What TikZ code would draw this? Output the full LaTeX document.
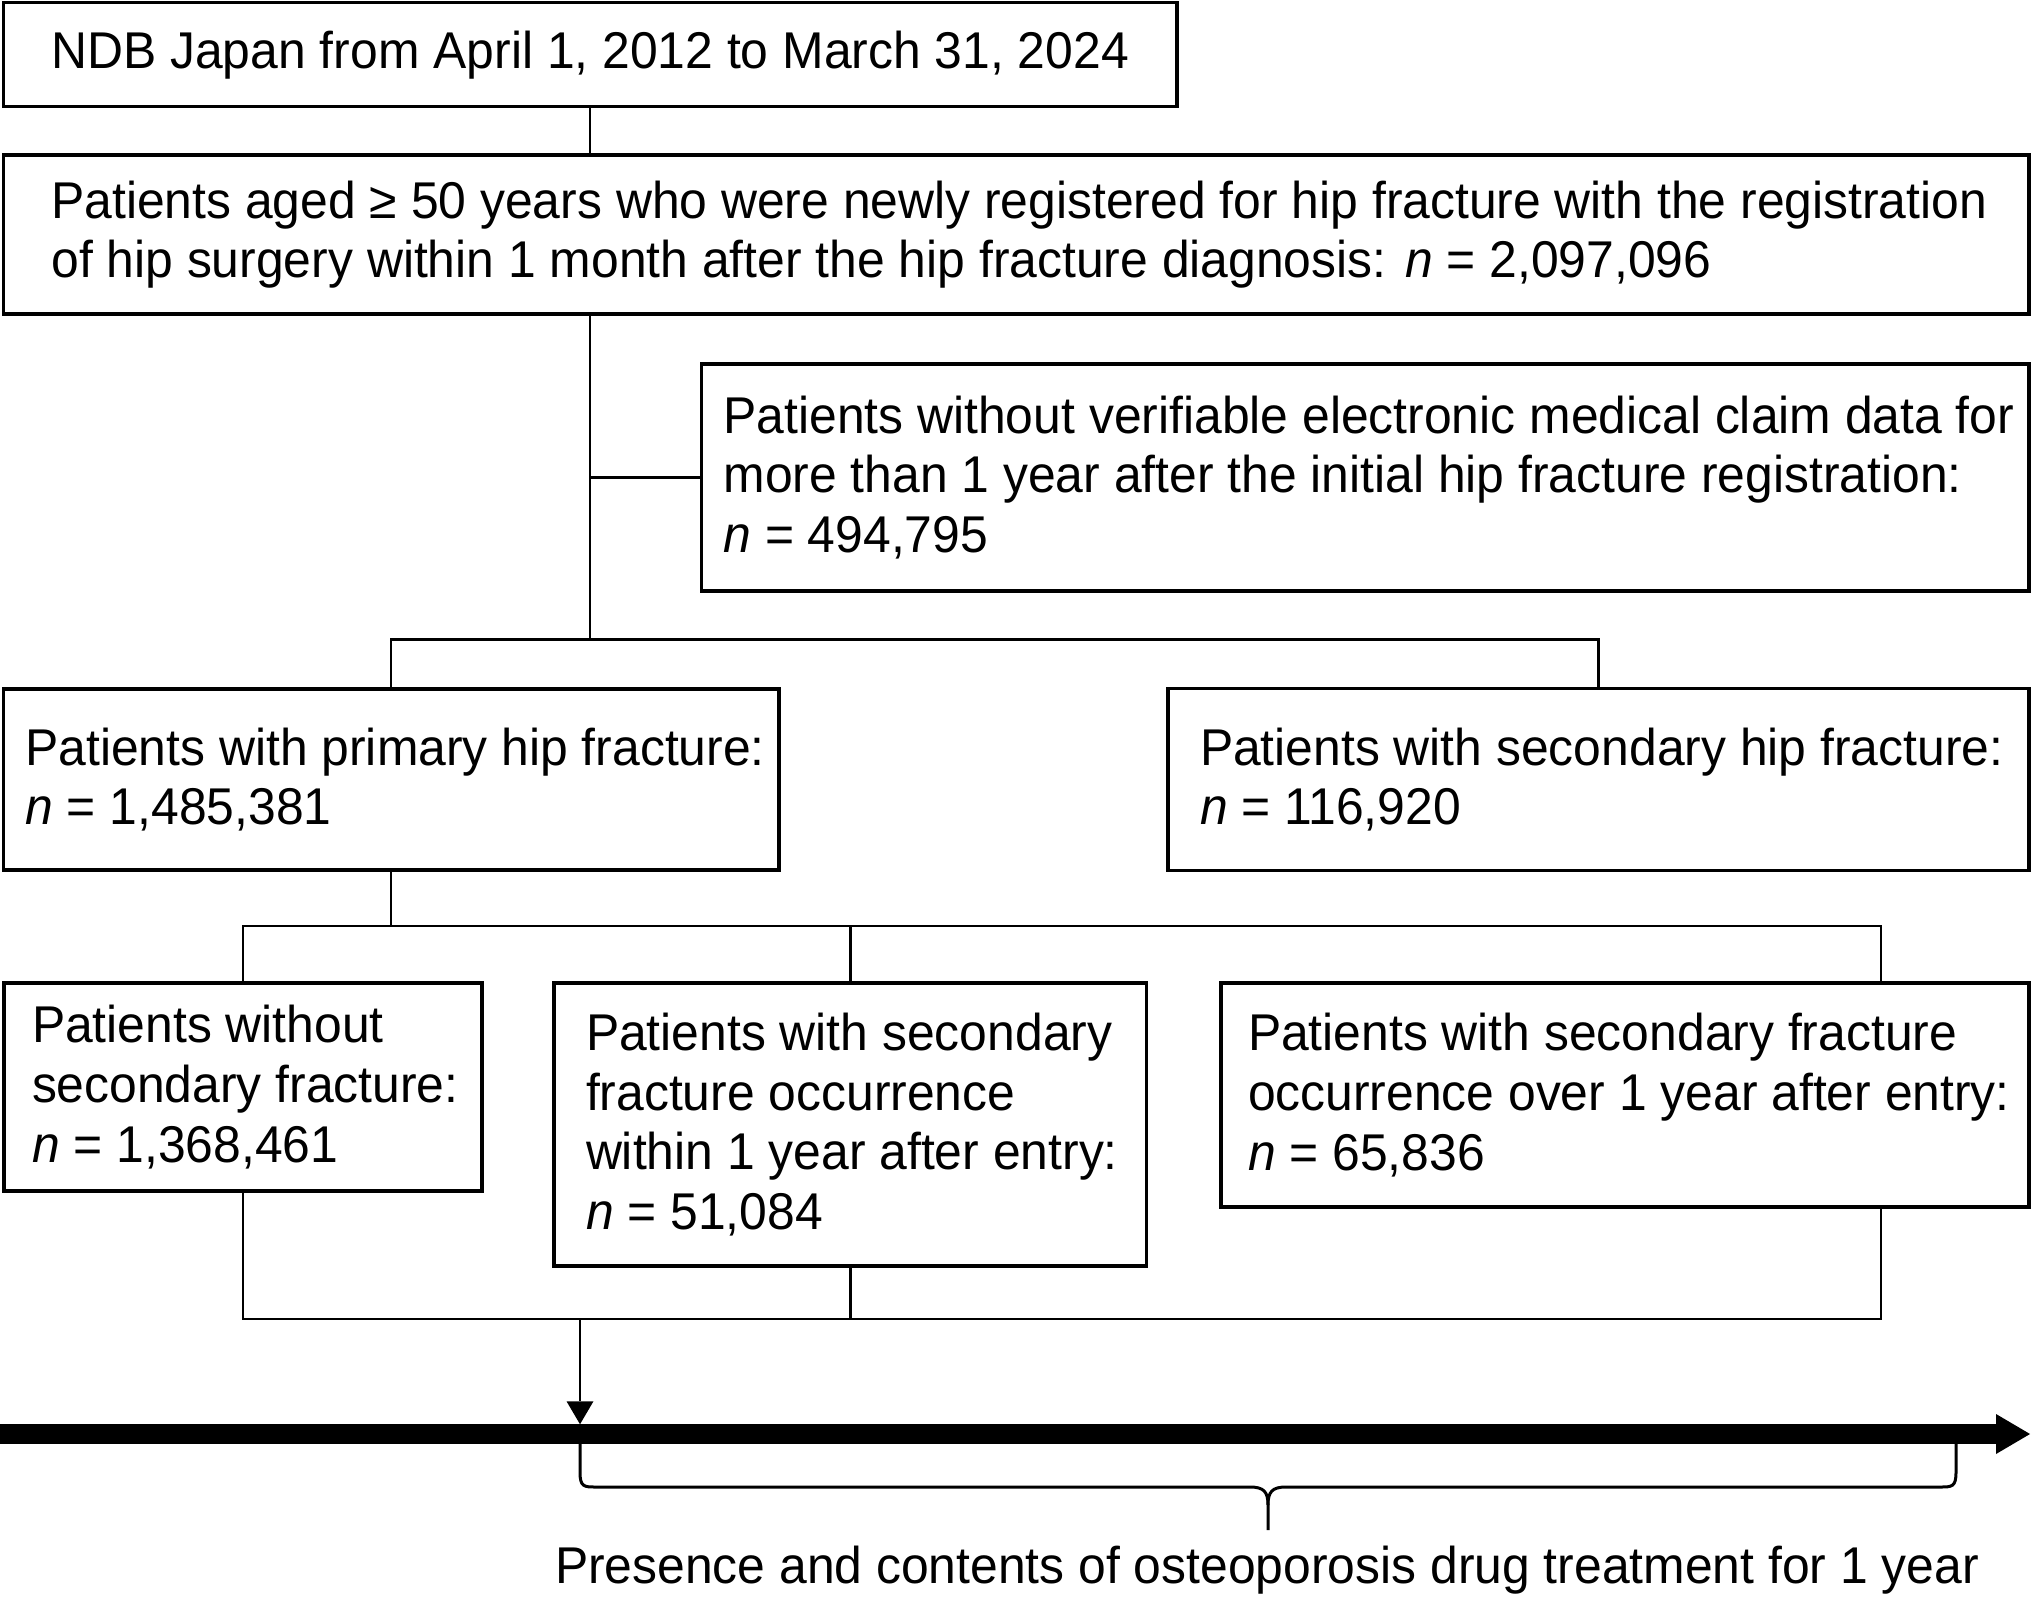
\documentclass[tikz,border=0pt]{standalone}
\usepackage{fontspec}
\setmainfont{Liberation Sans}[FakeStretch=0.964]
\usetikzlibrary{arrows.meta}

\begin{document}
\begin{tikzpicture}[x=1pt,y=-1pt,line join=miter]
	\def\boxline{3.3pt}
	\def\linkline{2.6pt}
	\tikzstyle{flow-box}=[rectangle,draw=black,line width=\boxline,anchor=north west,outer sep=0pt,inner ysep=0pt,font=\fontsize{51.7}{59.6}\selectfont]
	\tikzstyle{flow-text}=[flow-box,align=flush left,execute at begin node={\leftskip=6pt\rightskip=-6pt plus 1fil}]
	\tikzstyle{link}=[draw=black,line width=\linkline]
	\tikzstyle{annot}=[font=\fontsize{51.7}{59.6}\selectfont,anchor=base]
	\useasboundingbox (0,0) rectangle (2033,1597);

	% source and cohort
	\node[flow-box,align=center,minimum width=1173.7pt,minimum height=104pt] (ndb) at (3.3,2.7) {NDB Japan from April 1, 2012 to March 31, 2024};
	\node[flow-text,text width=1941.7pt,inner xsep=42pt,minimum height=159pt] (cohort) at (3.3,155) {Patients aged ≥ 50 years who were newly registered for hip fracture with the registration\\of hip surgery within 1 month after the hip fracture diagnosis: \textit{n} = 2,097,096};
	\node[flow-text,text width=1295.5pt,inner xsep=16pt,minimum height=227pt] (excl) at (701.5,364) {Patients without verifiable electronic medical claim data for\\more than 1 year after the initial hip fracture registration:\\\textit{n} = 494,795};

	% primary / secondary
	\node[flow-text,text width=743.7pt,inner xsep=16pt,minimum height=181pt] (prim) at (3.3,689) {Patients with primary hip fracture:\\\textit{n} = 1,485,381};
	\node[flow-text,text width=809pt,inner xsep=26pt,minimum height=182pt] (sec) at (1168,688.5) {Patients with secondary hip fracture:\\\textit{n} = 116,920};

	% secondary fracture groups
	\node[flow-text,text width=434pt,inner xsep=22pt,minimum height=208pt] (nosec) at (4,983) {Patients without\\secondary fracture:\\\textit{n} = 1,368,461};
	\node[flow-text,text width=540.5pt,inner xsep=26pt,minimum height=283pt] (within) at (554,983) {Patients with secondary\\fracture occurrence\\within 1 year after entry:\\\textit{n} = 51,084};
	\node[flow-text,text width=766pt,inner xsep=21pt,minimum height=224pt] (over) at (1221,983) {Patients with secondary fracture\\occurrence over 1 year after entry:\\\textit{n} = 65,836};

	% junctions
	\coordinate (split) at (590.15,639.5);
	\coordinate (fork) at (391.15,926);
	\coordinate (fork-r) at (1881,926);
	\coordinate (merge-r) at (1881,1319);
	\coordinate (entry) at (580,1319);
	\coordinate (entry-tip) at (580,1424.25);
	\coordinate (tl-start) at (0,1434);
	\coordinate (tl-end) at (2030,1434);

	% connectors
	\draw[link] (ndb.south) -- (ndb.south |- cohort.north);
	\draw[link] (ndb.south |- cohort.south) -- (split);
	\draw[link] (excl.west) -- (excl.west -| split);
	\draw[link] (prim.north) |- (split) -| (sec.north);
	\draw[link] (prim.south) -- (fork);
	\draw[link] (nosec.north) |- (fork-r) -- (fork-r |- over.north);
	\draw[link] (within.north) -- (within.north |- fork);
	\draw[link] (nosec.south) |- (merge-r) -- (merge-r |- over.south);
	\draw[link] (within.south) -- (within.south |- merge-r);
	\draw[link,-{Triangle[length=23pt,width=27pt,line width=0pt]}] (entry) -- (entry-tip);

	% time line
	\draw[line width=19.5pt,-{Triangle[length=34pt,width=40pt,line width=0pt]}] (tl-start) -- (tl-end);

	% brace and label
	\draw[line width=3pt] (580,1444) -- (580,1472) .. controls (580,1487) and (584,1487) .. (596,1487) -- (1250,1487) .. controls (1264,1487) and (1268,1492) .. (1268,1505) -- (1268,1530);
	\draw[line width=3pt] (1268,1505) .. controls (1268,1492) and (1272,1487) .. (1286,1487) -- (1940,1487) .. controls (1952,1487) and (1956,1487) .. (1956,1472) -- (1956,1444);
	\node[annot] (drug-label) at (1267,1583) {Presence and contents of osteoporosis drug treatment for 1 year};
\end{tikzpicture}
\end{document}
